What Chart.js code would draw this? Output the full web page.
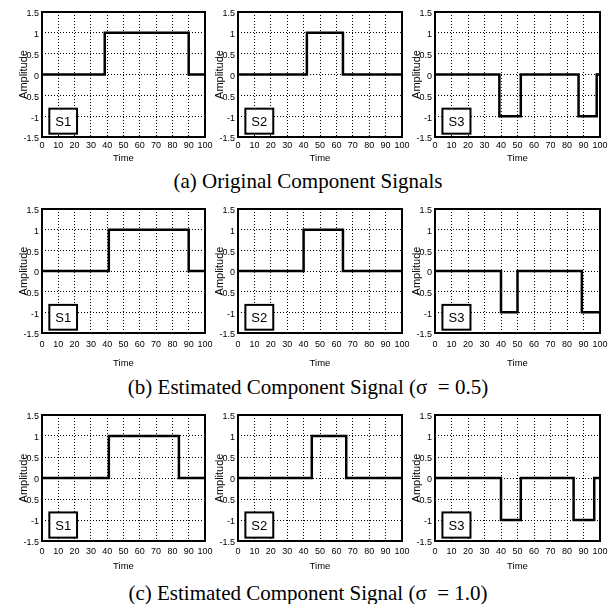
<!DOCTYPE html>
<html><head><meta charset="utf-8">
<script src="https://cdn.jsdelivr.net/npm/chart.js@4"></script>
<style>
html,body{margin:0;padding:0;background:#fff;}
#wrap{position:relative;width:613px;height:604px;overflow:hidden;background:#fff;}
canvas{position:absolute;}
.cap{position:absolute;left:0;width:616px;text-align:center;font-family:"Liberation Serif","Times New Roman",serif;font-size:21px;color:#000;line-height:24px;white-space:pre;}
</style></head><body><div id="wrap"></div>
<script>
// ---- data ----
const timeTicks = [0,10,20,30,40,50,60,70,80,90,100];
const ampTicks = [-1.5,-1,-0.5,0,0.5,1,1.5];
const signalNames = ['S1','S2','S3'];
const captions = ['(a) Original Component Signals',
                  '(b) Estimated Component Signal (\u03c3\u00a0 = 0.5)',
                  '(c) Estimated Component Signal (\u03c3\u00a0 = 1.0)'];

// each value holds from its time until the next time
const origS1Time = [0, 38.5, 90, 100];   const origS1Amp = [0, 1, 0, 0];
const origS2Time = [0, 42, 64, 100];     const origS2Amp = [0, 1, 0, 0];
const origS3Time = [0, 39, 52, 87, 98, 100]; const origS3Amp = [0, -1, 0, -1, 0, 0];

const est05S1Time = [0, 41, 90, 100];    const est05S1Amp = [0, 1, 0, 0];
const est05S2Time = [0, 40, 64, 100];    const est05S2Amp = [0, 1, 0, 0];
const est05S3Time = [0, 40, 50, 89, 100]; const est05S3Amp = [0, -1, 0, -1, -1];

const est10S1Time = [0, 41, 84, 100];    const est10S1Amp = [0, 1, 0, 0];
const est10S2Time = [0, 45, 66, 100];    const est10S2Amp = [0, 1, 0, 0];
const est10S3Time = [0, 40, 52, 84, 96.5, 100]; const est10S3Amp = [0, -1, 0, -1, 0, 0];

const rows = [
  [[origS1Time, origS1Amp], [origS2Time, origS2Amp], [origS3Time, origS3Amp]],
  [[est05S1Time, est05S1Amp], [est05S2Time, est05S2Amp], [est05S3Time, est05S3Amp]],
  [[est10S1Time, est10S1Amp], [est10S2Time, est10S2Amp], [est10S3Time, est10S3Amp]]
];

// ---- layout ----
const colLeft = [42, 238, 435];
const colWidth = [163, 164, 165];
const rowTop = [12, 209, 415];
const rowHeight = [125, 124, 126];
const rowTickPad = [3, 6, 5];
const rowTitleGap = [21, 30, 25];
const captionY = [181, 387, 593];
const Y_W = 40, PAD_T = 10, PAD_R = 14;

const wrap = document.getElementById('wrap');
const tickFont = {family: '"Liberation Sans", Arial, sans-serif', size: 9};

const framePlugin = {
  id: 'frame',
  afterDatasetsDraw(chart) {
    const {ctx, chartArea: a} = chart;
    const xs = chart.scales.x, ys = chart.scales.y;
    ctx.save();
    ctx.strokeStyle = '#000';
    ctx.lineWidth = 2;
    ctx.strokeRect(a.left, a.top, a.right - a.left, a.bottom - a.top);
    const x0 = xs.getPixelForValue(4.5), x1 = xs.getPixelForValue(21.5);
    const y0 = ys.getPixelForValue(-0.82), y1 = ys.getPixelForValue(-1.42);
    ctx.fillStyle = '#fff';
    ctx.fillRect(x0, y0, x1 - x0, y1 - y0);
    ctx.strokeRect(x0, y0, x1 - x0, y1 - y0);
    ctx.fillStyle = '#000';
    ctx.font = '13px "Liberation Sans", Arial, sans-serif';
    ctx.textAlign = 'center';
    ctx.textBaseline = 'middle';
    ctx.fillText(chart.data.datasets[0].label, (x0 + x1) / 2, (y0 + y1) / 2 + 1);
    ctx.restore();
  }
};

function makePanel(r, c, times, amps, name) {
  const xH = rowTitleGap[r] + 6;
  const W = Y_W + colWidth[c] + PAD_R, H = PAD_T + rowHeight[r] + xH;
  const cv = document.createElement('canvas');
  cv.width = W; cv.height = H;
  cv.style.left = (colLeft[c] - Y_W) + 'px';
  cv.style.top = (rowTop[r] - PAD_T) + 'px';
  cv.style.width = W + 'px'; cv.style.height = H + 'px';
  wrap.appendChild(cv);
  new Chart(cv, {
    type: 'line',
    data: {datasets: [{
      label: name,
      data: times.map((t, i) => ({x: t, y: amps[i]})),
      stepped: true, borderColor: '#000', borderWidth: 2.5,
      pointRadius: 0, fill: false, tension: 0,
      borderCapStyle: 'butt', borderJoinStyle: 'miter'
    }]},
    options: {
      responsive: false, devicePixelRatio: 1, animation: false, events: [],
      layout: {padding: {left: 0, top: PAD_T, right: PAD_R, bottom: 0}},
      plugins: {legend: {display: false}, tooltip: {enabled: false}},
      scales: {
        x: {
          type: 'linear', min: 0, max: 100,
          afterBuildTicks: s => { s.ticks = timeTicks.map(v => ({value: v})); },
          afterFit: s => { s.height = xH; s.paddingLeft = 0; s.paddingRight = 0; },
          ticks: {font: tickFont, color: '#000', padding: rowTickPad[r], maxRotation: 0, autoSkip: false,
                  callback: v => String(v)},
          grid: {color: '#000', lineWidth: 1, drawTicks: false},
          border: {display: false, dash: [1, 2]},
          title: {display: true, text: 'Time', color: '#000', padding: 0,
                  font: {family: '"Liberation Sans", Arial, sans-serif', size: 9.5}}
        },
        y: {
          type: 'linear', min: -1.5, max: 1.5,
          afterBuildTicks: s => { s.ticks = ampTicks.map(v => ({value: v})); },
          afterFit: s => { s.width = Y_W; s.paddingTop = 0; s.paddingBottom = 0; },
          ticks: {font: tickFont, color: '#000', padding: 3, labelOffset: 2, autoSkip: false,
                  callback: v => String(v)},
          grid: {color: '#000', lineWidth: 1, drawTicks: false},
          border: {display: false, dash: [1, 2]},
          title: {display: true, text: 'Amplitude', color: '#000', padding: {top: 15, bottom: 0},
                  font: {family: '"Liberation Sans", Arial, sans-serif', size: 11}}
        }
      }
    },
    plugins: [framePlugin]
  });
}

rows.forEach((row, r) => row.forEach((s, c) => makePanel(r, c, s[0], s[1], signalNames[c])));

captions.forEach((t, r) => {
  const d = document.createElement('div');
  d.className = 'cap';
  d.style.top = (captionY[r] - 12) + 'px';
  d.textContent = t;
  wrap.appendChild(d);
});
</script></body></html>
